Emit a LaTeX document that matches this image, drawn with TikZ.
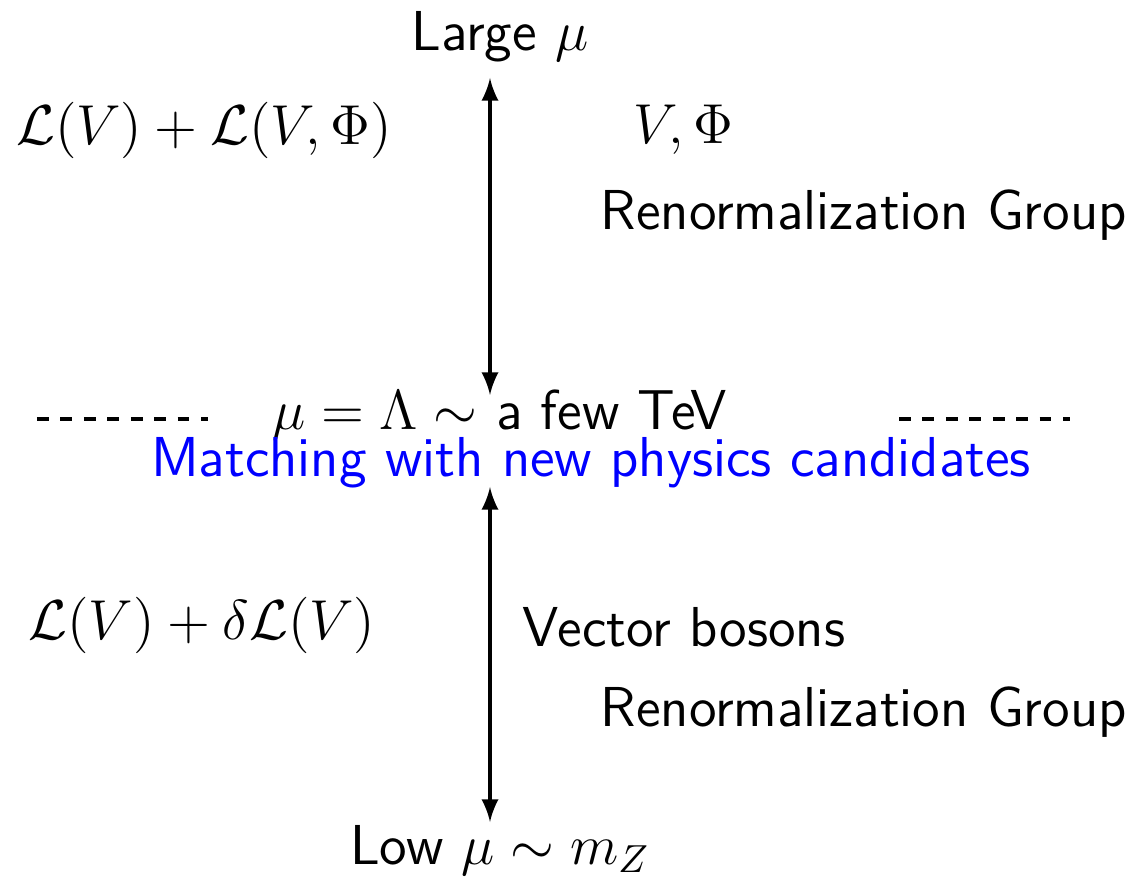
\documentclass[tikz,border=0pt]{standalone}
\usepackage{tikz}
\usetikzlibrary{arrows, positioning}
\usepackage{amsmath}
\usepackage{amssymb}

\begin{document}
\begin{tikzpicture}[
    x=0.899cm, y=0.899cm,
    every node/.style={font=\Large\sffamily, inner sep=0pt},
    lab/.style={anchor=center},
    arrow/.style={<->, >=latex, line width=1pt},
    cut/.style={dashed, thick}
]
\useasboundingbox (0,0) rectangle (11.31,-8.77);

% --- scale axis ends ---
\node[lab] (high) at (5.00,-0.37) {Large $\mu$};
\node[lab] (low)  at (5.00,-8.50) {Low $\mu\sim m_Z$};

% --- above the matching scale ---
\node[lab] (lagup)  at (2.04,-1.30) {$\mathcal{L}(V)+\mathcal{L}(V,\Phi)$};
\node[lab] (fields) at (6.83,-1.30) {$V,\Phi$};
\node[anchor=west] (rgup) at (6.00,-2.15) {Renormalization Group};

% --- matching scale ---
\node[lab] (scale) at (5.00,-4.15) {$\mu=\Lambda\sim$ a few TeV};
\node[lab, text=blue] (match) at (5.91,-4.63) {Matching with new physics candidates};
\coordinate (dashla) at (0.37,-4.19);
\coordinate (dashlb) at (2.08,-4.19);
\coordinate (dashra) at (8.99,-4.19);
\coordinate (dashrb) at (10.70,-4.19);
\draw[cut] (dashla) -- (dashlb);
\draw[cut] (dashra) -- (dashrb);

% --- below the matching scale ---
\node[lab] (laglow) at (2.02,-6.25) {$\mathcal{L}(V)+\delta\mathcal{L}(V)$};
\node[anchor=west] (vb) at (5.22,-6.27) {Vector bosons};
\node[anchor=west] (rglow) at (6.00,-7.12) {Renormalization Group};

% --- running ---
\coordinate (uptop) at (4.90,-0.78);
\coordinate (upbot) at (4.90,-3.95);
\coordinate (lowtop) at (4.90,-4.87);
\coordinate (lowbot) at (4.90,-8.22);
\draw[arrow] (uptop) -- (upbot);
\draw[arrow] (lowtop) -- (lowbot);
\end{tikzpicture}
\end{document}
